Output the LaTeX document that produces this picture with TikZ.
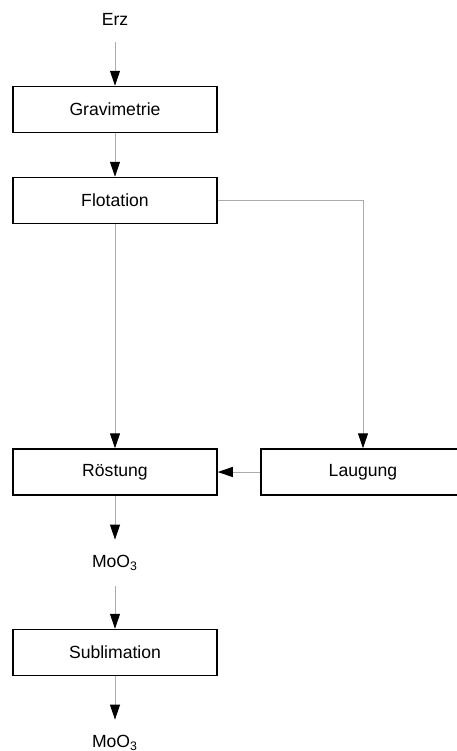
\documentclass[tikz,border=0pt]{standalone}
\usepackage{fontspec}
\setmainfont{Liberation Sans}
\usetikzlibrary{arrows.meta,positioning}

\begin{document}
\begin{tikzpicture}[x=0.5pt,y=-0.5pt,font=\fontsize{8.8}{10}\selectfont,
		schritt/.style={draw=black, line width=0.75pt, minimum width=102pt, minimum height=23pt, inner sep=0pt},
		stoff/.style={minimum height=23pt, inner sep=0pt},
		fluss/.style={draw=gray!65, line width=0.5pt, -{Triangle[black,length=7.5pt,width=5pt]}}]
		\useasboundingbox (0,0) rectangle (456,751);

		\node (erz) at (115,19) [stoff] {Erz};
		\node (grav) at (115,109.5) [schritt] {Gravimetrie};
		\node (flot) at (115,200.5) [schritt] {Flotation};
		\node (roest) at (115,472) [schritt] {Röstung};
		\node (laug) at (363,472) [schritt] {Laugung};
		\node (moo1) at (115,563) [stoff] {MoO\textsubscript{3}};
		\node (subl) at (115,652.5) [schritt] {Sublimation};
		\node (moo2) at (115,743) [stoff] {MoO\textsubscript{3}};

		\draw [fluss] (erz) -- (grav);
		\draw [fluss] (grav) -- (flot);
		\draw [fluss] (flot) -- (roest);
		\draw [fluss] (flot.east) -| (laug.north);
		\draw [fluss] (laug) -- (roest);
		\draw [fluss] (roest) -- (moo1);
		\draw [fluss] (moo1) -- (subl);
		\draw [fluss] (subl) -- (moo2);
	\end{tikzpicture}
\end{document}
